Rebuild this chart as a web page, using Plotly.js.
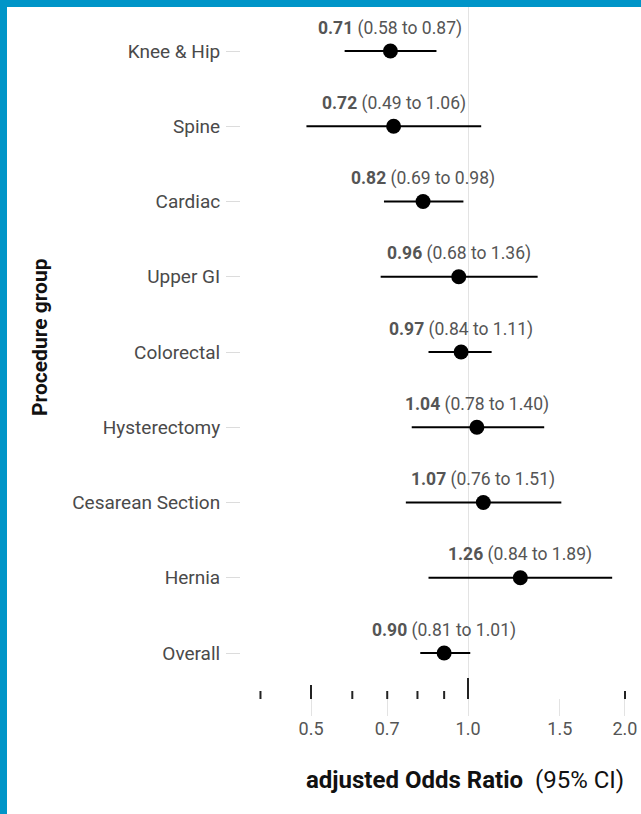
<!DOCTYPE html>
<html>
<head>
<meta charset="utf-8">
<script src="https://cdn.plot.ly/plotly-3.0.1.min.js"></script>
<style>
  html, body { margin: 0; padding: 0; background: #0095C8; width: 641px; height: 814px; overflow: hidden; }
  #chart { position: absolute; left: 7px; top: 7px; width: 634px; height: 807px; background: #fff; }
</style>
</head>
<body>
<div id="chart"></div>
<script>
// ---- data ----
const groups = ["Knee & Hip", "Spine", "Cardiac", "Upper GI", "Colorectal", "Hysterectomy", "Cesarean Section", "Hernia", "Overall"];
const oddsRatio = [0.71, 0.72, 0.82, 0.96, 0.97, 1.04, 1.07, 1.26, 0.90];
const ciLow  = [0.58, 0.49, 0.69, 0.68, 0.84, 0.78, 0.76, 0.84, 0.81];
const ciHigh = [0.87, 1.06, 0.98, 1.36, 1.11, 1.40, 1.51, 1.89, 1.01];
const xTickVals = [0.5, 0.7, 1.0, 1.5, 2.0];
const xTickText = ["0.5", "0.7", "1.0", "1.5", "2.0"];
const rugSmall = [0.4, 0.6, 0.7, 0.8, 0.9, 2.0];
const rugMid = [0.5];
const rugBig = [1.0];

const FONT = "Roboto, 'Open Sans', sans-serif";
const idx = groups.map((_, i) => i);

const trace = {
  type: "scatter",
  mode: "markers",
  x: oddsRatio,
  y: idx,
  xaxis: "x",
  yaxis: "y",
  marker: { color: "#000", size: 15 },
  error_x: {
    type: "data",
    symmetric: false,
    array: oddsRatio.map((v, i) => ciHigh[i] - v),
    arrayminus: oddsRatio.map((v, i) => v - ciLow[i]),
    color: "#000",
    thickness: 1.8,
    width: 0
  },
  hoverinfo: "skip",
  showlegend: false
};

// dummy trace for bottom panel
const trace2 = {
  type: "scatter", mode: "markers", x: [1], y: [0], xaxis: "x2", yaxis: "y2",
  marker: { opacity: 0 }, hoverinfo: "skip", showlegend: false
};

const fmt = v => v.toFixed(2);
const annotations = groups.map((g, i) => ({
  xref: "x", yref: "y",
  x: Math.log10(oddsRatio[i]), y: i,
  yshift: 23,
  showarrow: false,
  text: "<b>" + fmt(oddsRatio[i]) + "</b> (" + fmt(ciLow[i]) + " to " + fmt(ciHigh[i]) + ")",
  font: { family: FONT, size: 17.5, color: "#555" },
  xanchor: "center", yanchor: "middle"
}));

annotations.push({
  xref: "paper", yref: "paper", x: 0.561, y: -0.0903,
  showarrow: false,
  text: "<b>adjusted Odds Ratio</b>  (95% CI)",
  font: { family: FONT, size: 24, color: "#111" },
  xanchor: "center", yanchor: "middle"
});
annotations.push({
  xref: "paper", yref: "paper", x: -0.5025, y: 0.5346,
  showarrow: false, textangle: -90,
  text: "<b>Procedure group</b>",
  font: { family: FONT, size: 21, color: "#111" },
  xanchor: "center", yanchor: "middle"
});

// rug tick marks at bottom of main panel
const mainBottom = 0.023977;
const panelH = 709;
function rug(vals, len) {
  return vals.map(v => ({
    type: "line", xref: "x", yref: "paper",
    x0: v, x1: v, y0: mainBottom, y1: mainBottom + len / panelH,
    line: { color: "#222", width: 2 }, layer: "above"
  }));
}
const shapes = [].concat(rug(rugSmall, 8), rug(rugMid, 14), rug(rugBig, 21));

const layout = {
  width: 634, height: 807,
  margin: { l: 234, r: 0, t: 0, b: 98 },
  paper_bgcolor: "#fff", plot_bgcolor: "rgba(0,0,0,0)",
  font: { family: FONT, color: "#4d4d4d" },
  xaxis: {
    type: "log", range: [-0.43528, 0.33174],
    domain: [0, 1], anchor: "y",
    tickvals: [1.0], showticklabels: false, ticks: "",
    showgrid: true, gridcolor: "#e3e3e3", gridwidth: 1,
    zeroline: false, showline: false, fixedrange: true
  },
  yaxis: {
    domain: [mainBottom, 1], anchor: "x",
    range: [8.611, -0.5847],
    tickvals: idx, ticktext: groups,
    ticks: "outside", ticklen: 14, tickcolor: "#dcdcdc", tickwidth: 1,
    ticklabelstandoff: 2,
    tickfont: { family: FONT, size: 19, color: "#4a4a4a" },
    showgrid: false, zeroline: false, showline: false
  },
  xaxis2: {
    type: "log", range: [-0.43528, 0.33174], matches: "x",
    domain: [0, 1], anchor: "y2",
    tickvals: xTickVals, ticktext: xTickText,
    ticks: "", showgrid: true, gridcolor: "#e3e3e3", gridwidth: 1,
    tickfont: { family: FONT, size: 18, color: "#555" },
    zeroline: false, showline: false
  },
  yaxis2: {
    domain: [0, mainBottom], anchor: "x2", range: [0, 1],
    showticklabels: false, showgrid: false, zeroline: false, ticks: "", showline: false
  },
  annotations: annotations,
  shapes: shapes
};

Plotly.newPlot("chart", [trace, trace2], layout, { staticPlot: true, displayModeBar: false });
</script>
</body>
</html>
